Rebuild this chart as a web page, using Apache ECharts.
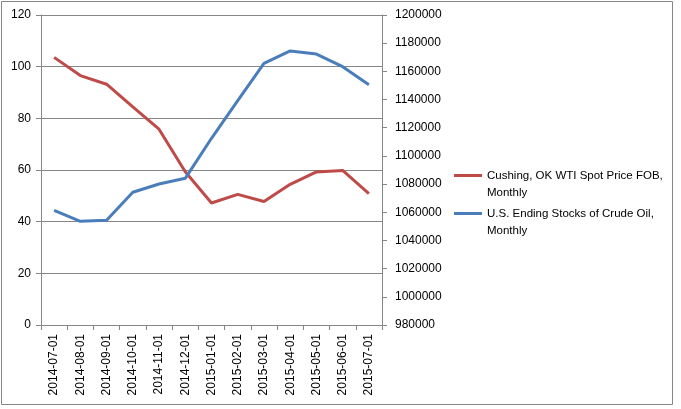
<!DOCTYPE html>
<html>
<head>
<meta charset="utf-8">
<script src="https://cdn.jsdelivr.net/npm/echarts@6/dist/echarts.min.js"></script>
<style>
  html, body { margin: 0; padding: 0; background: #fff; }
  #chart { width: 681px; height: 409px; }
</style>
</head>
<body>
<div id="chart"></div>
<script>
var months = ['2014-07-01', '2014-08-01', '2014-09-01', '2014-10-01', '2014-11-01', '2014-12-01',
    '2015-01-01', '2015-02-01', '2015-03-01', '2015-04-01', '2015-05-01', '2015-06-01', '2015-07-01'];
var wtiPrice = [103.59, 96.54, 93.21, 84.40, 75.79, 59.29, 47.22, 50.58, 47.82, 54.45, 59.27, 59.82, 50.90];
var crudeStocks = [1061400, 1053600, 1054300, 1074200, 1080100, 1084100, 1112500, 1139200,
    1165700, 1174500, 1172300, 1163300, 1150500];
var priceName = 'Cushing, OK WTI Spot Price FOB,\nMonthly';
var stocksName = 'U.S. Ending Stocks of Crude Oil,\nMonthly';

var myChart = echarts.init(document.getElementById('chart'));
var axisGrey = '#868686';
var font = 'Liberation Sans';

var option = {
    animation: false,
    textStyle: { fontFamily: font },
    graphic: [{
        type: 'rect',
        shape: { x: 1.5, y: 1.5, width: 671, height: 403 },
        style: { fill: 'none', stroke: axisGrey, lineWidth: 1 },
        silent: true
    }],
    grid: { left: 41, right: 299, top: 15, bottom: 84 },
    legend: {
        orient: 'vertical',
        left: 449,
        top: 145,
        itemWidth: 28,
        itemHeight: 3,
        itemGap: -13,
        icon: 'rect',
        data: [priceName, stocksName],
        // blank first line keeps the icon level with the first text line
        formatter: function (name) { return ' \n' + name; },
        textStyle: { fontFamily: font, fontSize: 11.5, color: '#000', lineHeight: 17 }
    },
    xAxis: {
        type: 'category',
        data: months,
        boundaryGap: true,
        axisLine: { lineStyle: { color: axisGrey } },
        axisTick: { show: true, length: 5, lineStyle: { color: axisGrey } },
        axisLabel: { rotate: 90, fontSize: 12, color: '#000', fontFamily: font, margin: 9 }
    },
    yAxis: [{
        type: 'value',
        min: 0,
        max: 120,
        interval: 20,
        axisLine: { show: true, lineStyle: { color: axisGrey } },
        axisTick: { show: true, length: 5, lineStyle: { color: axisGrey } },
        axisLabel: { fontSize: 12, color: '#000', fontFamily: font, margin: 10 },
        splitLine: { lineStyle: { color: axisGrey } }
    }, {
        type: 'value',
        min: 980000,
        max: 1200000,
        interval: 20000,
        position: 'right',
        axisLine: { show: true, lineStyle: { color: axisGrey } },
        axisTick: { show: true, length: 5, lineStyle: { color: axisGrey } },
        axisLabel: { fontSize: 12, color: '#000', fontFamily: font, margin: 13,
            formatter: function (v) { return String(v); } },
        splitLine: { show: false }
    }],
    series: [{
        name: priceName,
        type: 'line',
        yAxisIndex: 0,
        data: wtiPrice,
        showSymbol: false,
        lineStyle: { color: '#BE4B48', width: 3 },
        itemStyle: { color: '#BE4B48' }
    }, {
        name: stocksName,
        type: 'line',
        yAxisIndex: 1,
        data: crudeStocks,
        showSymbol: false,
        lineStyle: { color: '#4A7EBB', width: 3 },
        itemStyle: { color: '#4A7EBB' }
    }]
};

myChart.setOption(option);
</script>
</body>
</html>
